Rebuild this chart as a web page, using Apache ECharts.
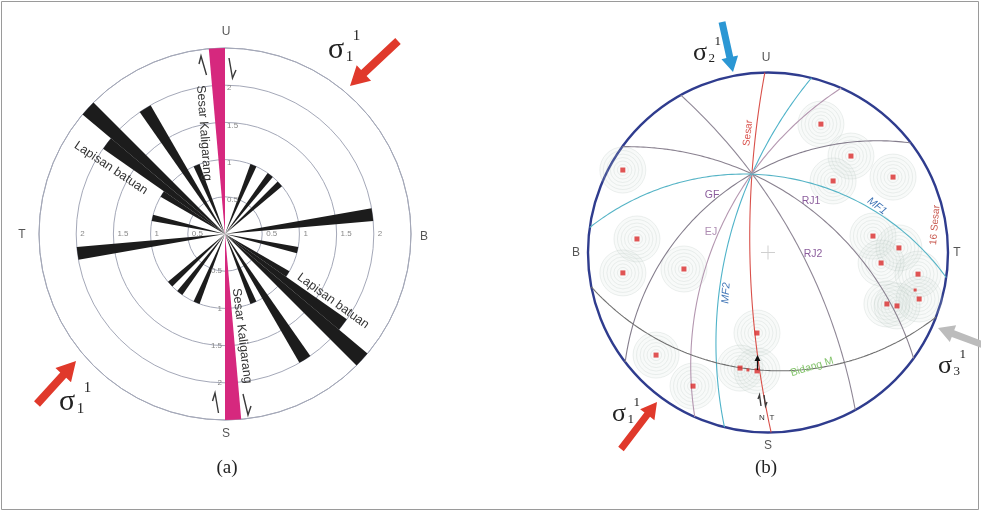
<!DOCTYPE html>
<html><head><meta charset="utf-8">
<script src="https://cdn.jsdelivr.net/npm/echarts@6/dist/echarts.min.js"></script>
<style>html,body{margin:0;padding:0;background:#fff}#c{width:981px;height:512px}</style>
</head><body><div id="c"></div>
<script>
// ===== (a) Rose diagram data (5 degree bins, azimuth clockwise from U) =====
const roseBinStart = [20, 35, 45, 80, 100, 120, 125, 130, 145, 155, 200, 215, 225, 260, 280, 300, 305, 310, 325, 335];
const roseLength   = [1.0, 1.0, 1.0, 2.0, 1.0, 1.0, 2.0, 2.5, 2.0, 1.0, 1.0, 1.0, 1.0, 2.0, 1.0, 1.0, 2.0, 2.5, 2.0, 1.0];
const faultBinStart = [175, 355];
const faultLength   = [2.5, 2.5];
const binWidth = 5;
const ringTicks = [0.5, 1, 1.5, 2];

// ===== (b) Stereonet data (lower hemisphere, Wulff) =====
const planeNames  = ['Sesar', 'MF2', 'RJ2', 'RJ1', 'GF', 'EJ', 'MF1'];
const planeDipDir = [269, 284, 61, 36, 322.5, 294, 8];
const planeDip    = [78.5, 64.4, 71.4, 53.1, 45, 57, 43.8];
const bidangMTrend  = [259, 184, 111];
const bidangMPlunge = [0, 23.6, 0];
const poleTrend  = [22.4, 40.7, 42.3, 58.9, 299.6, 275.9, 262.0, 258.9, 81.1, 88.0, 95.3, 98.2, 107.1, 113.4, 112.5, 187.8, 193.6, 185.3, 227.5, 209.3];
const polePlunge = [14.7, 19.5, 33.5, 11.9, 4.3, 17.6, 11.7, 39.1, 28.9, 17.9, 25.5, 9.8, 7.4, 18.5, 14.4, 41.4, 23.1, 23.1, 9.7, 9.2];
const minorPoleTrend  = [104.3, 189.7];
const minorPolePlunge = [9.7, 23.0];

// ---------- styles ----------
const planeColors = {Sesar:'#d9504a', MF2:'#4fb3c9', RJ2:'#8f8796', RJ1:'#8a8290', GF:'#847d8c', EJ:'#b497b0', MF1:'#56b4c6'};

// ---------- helpers ----------
const D = Math.PI / 180;
function proj(trend, plunge) {
  const t = trend * D, p = plunge * D;
  const x = Math.cos(p) * Math.sin(t), y = Math.cos(p) * Math.cos(t), z = Math.sin(p);
  return [x / (1 + z), y / (1 + z)];
}
function greatCircle(dd, dip) {
  const d = dd * D, a = dip * D;
  const s = [Math.sin(d - Math.PI / 2), Math.cos(d - Math.PI / 2), 0];
  const v = [Math.sin(d) * Math.cos(a), Math.cos(d) * Math.cos(a), Math.sin(a)];
  const pts = [];
  for (let i = 0; i <= 180; i += 1) {
    const th = i * D;
    const x = Math.cos(th) * s[0] + Math.sin(th) * v[0];
    const y = Math.cos(th) * s[1] + Math.sin(th) * v[1];
    const z = Math.cos(th) * s[2] + Math.sin(th) * v[2];
    pts.push([x / (1 + z), y / (1 + z)]);
  }
  return pts;
}
function arc3(A, B, C) {
  const [ax, ay] = A, [bx, by] = B, [cx, cy] = C;
  const d = 2 * (ax * (by - cy) + bx * (cy - ay) + cx * (ay - by));
  const ux = ((ax*ax + ay*ay) * (by - cy) + (bx*bx + by*by) * (cy - ay) + (cx*cx + cy*cy) * (ay - by)) / d;
  const uy = ((ax*ax + ay*ay) * (cx - bx) + (bx*bx + by*by) * (ax - cx) + (cx*cx + cy*cy) * (bx - ax)) / d;
  const R = Math.hypot(ax - ux, ay - uy);
  const a1 = Math.atan2(ay - uy, ax - ux), a2 = Math.atan2(by - uy, bx - ux), a3 = Math.atan2(cy - uy, cx - ux);
  const m = v => ((v % (2 * Math.PI)) + 2 * Math.PI) % (2 * Math.PI);
  const d13 = m(a3 - a1), d12 = m(a2 - a1);
  const sweep = d12 <= d13 ? d13 : d13 - 2 * Math.PI;
  const pts = [];
  for (let i = 0; i <= 120; i++) {
    const a = a1 + sweep * i / 120;
    pts.push([ux + R * Math.cos(a), uy + R * Math.sin(a)]);
  }
  return pts;
}

// ---------- rose data arrays ----------
const nBins = 360 / binWidth;
const cats = [], petals = [], fault = [];
for (let i = 0; i < nBins; i++) { cats.push(String(i * binWidth)); petals.push(0); fault.push(0); }
roseBinStart.forEach((b, i) => { petals[b / binWidth] = roseLength[i]; });
faultBinStart.forEach((b, i) => { fault[b / binWidth] = faultLength[i]; });

// ---------- stereonet series ----------
const poles = poleTrend.map((t, i) => proj(t, polePlunge[i]));
const minorPoles = minorPoleTrend.map((t, i) => proj(t, minorPolePlunge[i]));
const series = [
  {type: 'bar', coordinateSystem: 'polar', polarIndex: 0, data: petals, barCategoryGap: '0%', barGap: '-100%',
   itemStyle: {color: '#1c1c1c'}, silent: true, z: 3},
  {type: 'bar', coordinateSystem: 'polar', polarIndex: 0, data: fault, barCategoryGap: '0%', barGap: '-100%',
   itemStyle: {color: '#d6287e'}, silent: true, z: 4}
];
const ringSizes = [11, 18, 25, 32, 39, 46];
ringSizes.forEach((s, k) => {
  series.push({type: 'scatter', xAxisIndex: 0, yAxisIndex: 0, data: poles, symbol: 'circle', symbolSize: s,
    itemStyle: {color: k === ringSizes.length - 1 ? 'rgba(210,222,214,0.18)' : 'rgba(0,0,0,0)', borderColor: 'rgba(165,182,174,0.42)', borderWidth: 0.6},
    silent: true, z: 1});
});
planeNames.forEach((n, i) => {
  series.push({type: 'line', xAxisIndex: 0, yAxisIndex: 0, data: greatCircle(planeDipDir[i], planeDip[i]),
    showSymbol: false, symbol: 'none', lineStyle: {color: planeColors[n], width: 1.1}, silent: true, z: 2, clip: false});
});
series.push({type: 'line', xAxisIndex: 0, yAxisIndex: 0,
  data: arc3(proj(bidangMTrend[0], bidangMPlunge[0]), proj(bidangMTrend[1], bidangMPlunge[1]), proj(bidangMTrend[2], bidangMPlunge[2])),
  showSymbol: false, symbol: 'none', lineStyle: {color: '#707070', width: 1.1}, silent: true, z: 2, clip: false});
series.push({type: 'scatter', xAxisIndex: 0, yAxisIndex: 0, data: poles, symbol: 'rect', symbolSize: 5,
  itemStyle: {color: '#d92a2a'}, silent: true, z: 5});
series.push({type: 'scatter', xAxisIndex: 0, yAxisIndex: 0, data: minorPoles, symbol: 'rect', symbolSize: 3,
  itemStyle: {color: '#d92a2a'}, silent: true, z: 5});

// ---------- annotations ----------
const SANS = '"Liberation Sans", Arial, sans-serif';
const SERIF = '"Liberation Serif", "Times New Roman", serif';
function txt(x, y, text, size, color, rot, extra) {
  return Object.assign({type: 'text', x: x, y: y, rotation: (rot || 0) * D, z: 100,
    style: Object.assign({text: text, fill: color, font: size + 'px ' + SANS, align: 'center', verticalAlign: 'middle',
      textAlign: 'center', textVerticalAlign: 'middle'}, extra || {})});
}
function arrow(x1, y1, x2, y2, sw, hw, hl, color) {
  const dx = x2 - x1, dy = y2 - y1, L = Math.hypot(dx, dy), ux = dx / L, uy = dy / L, nx = -uy, ny = ux;
  const bx = x2 - ux * hl, by = y2 - uy * hl;
  return {type: 'polygon', z: 100, shape: {points: [
    [x1 + nx * sw / 2, y1 + ny * sw / 2], [bx + nx * sw / 2, by + ny * sw / 2], [bx + nx * hw / 2, by + ny * hw / 2], [x2, y2],
    [bx - nx * hw / 2, by - ny * hw / 2], [bx - nx * sw / 2, by - ny * sw / 2], [x1 - nx * sw / 2, y1 - ny * sw / 2]]},
    style: {fill: color}};
}
function halfArrow(pts) {
  return {type: 'polyline', z: 100, shape: {points: pts}, style: {stroke: '#3a3a3a', lineWidth: 1.4, fill: 'none'}};
}
function sigma(x, y, sub, sup, size) {
  return [
    {type: 'text', x: x, y: y, z: 100, style: {text: 'σ', font: size + 'px ' + SERIF, fill: '#222', align: 'center', verticalAlign: 'middle', textAlign: 'center', textVerticalAlign: 'middle'}},
    {type: 'text', x: x + size * 0.45, y: y + size * 0.22, z: 100, style: {text: sub, font: Math.round(size * 0.5) + 'px ' + SERIF, fill: '#222', align: 'center', verticalAlign: 'middle', textAlign: 'center', textVerticalAlign: 'middle'}},
    {type: 'text', x: x + size * 0.68, y: y - size * 0.45, z: 100, style: {text: sup, font: Math.round(size * 0.5) + 'px ' + SERIF, fill: '#222', align: 'center', verticalAlign: 'middle', textAlign: 'center', textVerticalAlign: 'middle'}}
  ];
}

const rcx = 225, rcy = 234, rk = 74.4;
const graphics = [
  {type: 'rect', shape: {x: 1.5, y: 1.5, width: 977, height: 508}, style: {fill: 'none', stroke: '#9a9a9a', lineWidth: 1}, z: 0, silent: true},
  // rose cardinal labels
  txt(226, 32, 'U', 12, '#555'), txt(226, 434, 'S', 12, '#555'), txt(22, 235, 'T', 12, '#555'), txt(424, 237, 'B', 12, '#555'),
  // rose text labels
  txt(204, 133, 'Sesar Kaligarang', 12.5, '#333', -85.8),
  txt(242, 336, 'Sesar Kaligarang', 12.5, '#333', -83),
  txt(111, 168, 'Lapisan batuan', 12.5, '#333', -33.7),
  txt(333, 301, 'Lapisan batuan', 12.5, '#333', -36),
  // fault half arrows (sense of movement)
  halfArrow([[206.5, 75], [201, 56], [199, 64]]),
  halfArrow([[229, 58], [232.5, 78], [236, 70]]),
  halfArrow([[218.5, 413], [215, 393], [212.5, 401]]),
  halfArrow([[243, 394], [248, 415], [251, 406]]),
  // rose arrows
  arrow(398, 41, 350, 86, 8, 21, 19, '#e0392b'),
  arrow(37, 404, 76, 361, 8, 21, 19, '#e0392b'),
  // stereonet labels
  txt(766, 58, 'U', 12, '#555'), txt(768, 446, 'S', 12, '#555'), txt(576, 253, 'B', 12, '#555'), txt(957, 253, 'T', 12, '#555'),
  txt(748, 133, 'Sesar', 10, '#d9504a', 84),
  txt(712, 195, 'GF', 10.5, '#8b5c9c'), txt(711, 232, 'EJ', 10.5, '#ae8cb2'),
  txt(811, 201, 'RJ1', 10.5, '#8b5c9c'), txt(813, 254, 'RJ2', 10.5, '#8b5c9c'),
  txt(877, 206, 'MF1', 10.5, '#3f74b5', -37, {font: 'italic 10.5px ' + SANS}),
  txt(726, 293, 'MF2', 10.5, '#3f74b5', 86, {font: 'italic 10.5px ' + SANS}),
  txt(935, 225, '16 Sesar', 10, '#c8584f', 85),
  txt(812, 367, 'Bidang M', 10.5, '#84c46c', 17),
  halfArrow([[761, 406], [759.5, 395], [758, 399]]),
  halfArrow([[764, 395], [765.5, 406], [767, 402]]),
  txt(762, 418, 'N', 8, '#333'), txt(772, 418, 'T', 8, '#333'),
  // center cross
  {type: 'line', shape: {x1: 761, y1: 252.5, x2: 775, y2: 252.5}, style: {stroke: '#cfcfcf', lineWidth: 1}, z: 1},
  {type: 'line', shape: {x1: 768, y1: 245.5, x2: 768, y2: 259.5}, style: {stroke: '#cfcfcf', lineWidth: 1}, z: 1},
  // small black arrow
  {type: 'line', shape: {x1: 757.5, y1: 370, x2: 757.5, y2: 360}, style: {stroke: '#111', lineWidth: 1.3}, z: 100},
  {type: 'polygon', shape: {points: [[754.5, 361], [760.5, 361], [757.5, 355]]}, style: {fill: '#111'}, z: 100},
  // stereonet arrows
  arrow(722, 22, 733, 72, 7, 17, 15, '#2b97d4'),
  arrow(621, 449, 657, 402, 7, 18, 16, '#e0392b'),
  arrow(986, 346, 938, 328, 7, 18, 16, '#bcbcbc'),
  // captions
  {type: 'text', x: 227, y: 468, z: 100, style: {text: '(a)', font: '19px ' + SERIF, fill: '#222', align: 'center', verticalAlign: 'middle', textAlign: 'center', textVerticalAlign: 'middle'}},
  {type: 'text', x: 766, y: 468, z: 100, style: {text: '(b)', font: '19px ' + SERIF, fill: '#222', align: 'center', verticalAlign: 'middle', textAlign: 'center', textVerticalAlign: 'middle'}}
].concat(sigma(336, 50, '1', '1', 30), sigma(67, 402, '1', '1', 30), sigma(700, 53, '2', '1', 26), sigma(619, 414, '1', '1', 26), sigma(945, 366, '3', '1', 26));

// rose ring tick labels
ringTicks.forEach(v => {
  const r = v * rk, lab = String(v);
  graphics.push(txt(rcx - r + 4, rcy, lab, 8, '#888', 0, {align: 'left', textAlign: 'left'}));
  graphics.push(txt(rcx + r + 4, rcy, lab, 8, '#888', 0, {align: 'left', textAlign: 'left'}));
  graphics.push(txt(rcx + 2, rcy - r + 3, lab, 8, '#888', 0, {align: 'left', textAlign: 'left'}));
  graphics.push(txt(rcx - 3, rcy + r, lab, 8, '#888', 0, {align: 'right', textAlign: 'right'}));
});

const option = {
  animation: false,
  backgroundColor: '#ffffff',
  polar: [{center: [rcx, rcy], radius: 186}, {center: [768, 252.5], radius: 180}],
  angleAxis: [
    {polarIndex: 0, type: 'category', data: cats, startAngle: 90, clockwise: true, boundaryGap: true,
     axisLine: {lineStyle: {color: '#a4a8b8', width: 1}}, axisTick: {show: false}, axisLabel: {show: false}, splitLine: {show: false}},
    {polarIndex: 1, type: 'value', min: 0, max: 360, startAngle: 90,
     axisLine: {lineStyle: {color: '#2f3c8e', width: 2.4}}, axisTick: {show: false}, axisLabel: {show: false}, splitLine: {show: false}}
  ],
  radiusAxis: [
    {polarIndex: 0, type: 'value', min: 0, max: 2.5, interval: 0.5, axisLine: {show: false}, axisTick: {show: false},
     axisLabel: {show: false}, splitLine: {show: true, lineStyle: {color: '#a4a8b8', width: 1}}},
    {polarIndex: 1, type: 'value', min: 0, max: 1, axisLine: {show: false}, axisTick: {show: false}, axisLabel: {show: false}, splitLine: {show: false}}
  ],
  grid: {left: 588, top: 72.5, width: 360, height: 360},
  xAxis: {type: 'value', min: -1, max: 1, show: false},
  yAxis: {type: 'value', min: -1, max: 1, show: false},
  series: series,
  graphic: graphics
};
const chart = echarts.init(document.getElementById('c'), null, {renderer: 'canvas'});
chart.setOption(option);
</script>
</body></html>
